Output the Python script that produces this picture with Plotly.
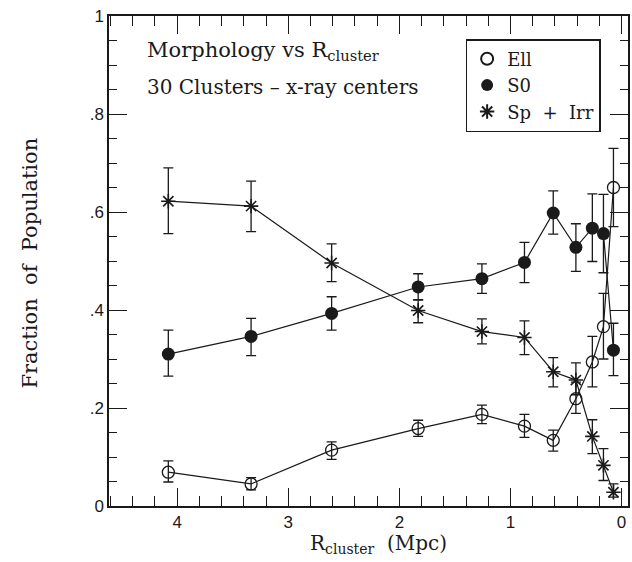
import plotly.graph_objects as go

# Data
r_cluster = [4.08, 3.335, 2.61, 1.831, 1.257, 0.874, 0.615, 0.411, 0.263, 0.163, 0.073]

ell = [0.069, 0.045, 0.114, 0.158, 0.187, 0.163, 0.134, 0.219, 0.294, 0.366, 0.650]
ell_up = [0.023, 0.013, 0.017, 0.017, 0.019, 0.024, 0.021, 0.034, 0.052, 0.068, 0.080]
ell_dn = [0.020, 0.012, 0.019, 0.016, 0.019, 0.023, 0.022, 0.030, 0.051, 0.066, 0.080]

s0 = [0.310, 0.346, 0.393, 0.447, 0.464, 0.497, 0.598, 0.528, 0.567, 0.556, 0.318]
s0_up = [0.049, 0.037, 0.034, 0.027, 0.030, 0.041, 0.045, 0.048, 0.070, 0.080, 0.055]
s0_dn = [0.045, 0.039, 0.034, 0.027, 0.030, 0.041, 0.043, 0.049, 0.068, 0.080, 0.052]

sp = [0.622, 0.612, 0.496, 0.399, 0.356, 0.344, 0.274, 0.257, 0.142, 0.083, 0.028]
sp_up = [0.068, 0.051, 0.039, 0.022, 0.026, 0.034, 0.029, 0.035, 0.034, 0.034, 0.017]
sp_dn = [0.066, 0.052, 0.038, 0.025, 0.025, 0.035, 0.031, 0.030, 0.035, 0.031, 0.010]

series_names = ["Ell", "S0", "Sp + Irr"]
legend_labels = ["Ell", "S0", "Sp  +  Irr"]
x_tickvals = [4, 3, 2, 1, 0]
x_ticktext = ["4", "3", "2", "1", "0"]
y_tickvals = [0, 0.2, 0.4, 0.6, 0.8, 1.0]
y_ticktext = ["0", ".2", ".4", ".6", ".8", "1"]

INK = "#1a1a1a"
SERIF = "DejaVu Serif"
SANS = "Liberation Sans"

fig = go.Figure()

styles = [
    dict(symbol="circle-open", size=12, color=INK, line=dict(width=1.3, color=INK)),
    dict(symbol="circle", size=13, color=INK, line=dict(width=0, color=INK)),
    dict(symbol="asterisk-open", size=12, color=INK, line=dict(width=1.6, color=INK)),
]

for name, lab, yv, up, dn, st in zip(series_names, legend_labels, [ell, s0, sp],
                                      [ell_up, s0_up, sp_up], [ell_dn, s0_dn, sp_dn], styles):
    fig.add_trace(go.Scatter(
        x=r_cluster, y=yv, mode="lines+markers", name=name, showlegend=False,
        line=dict(color=INK, width=1.2),
        marker=st,
        error_y=dict(type="data", symmetric=False, array=up, arrayminus=dn,
                     color=INK, thickness=1.3, width=5),
    ))
    fig.add_trace(go.Scatter(
        x=[None], y=[None], mode="markers", name=lab, showlegend=True, marker=st,
    ))

axis_common = dict(
    showline=True, linecolor=INK, linewidth=1.5, mirror="ticks",
    ticks="inside", tickcolor=INK, tickwidth=1.3, ticklen=18,
    showgrid=False, zeroline=False,
    tickfont=dict(family=SANS, size=17, color=INK),
)

fig.update_xaxes(
    **axis_common,
    range=[4.614, -0.058],
    tickvals=x_tickvals, ticktext=x_ticktext,
    minor=dict(dtick=0.2, tick0=0, ticks="inside", ticklen=10, tickcolor=INK, tickwidth=1.2),
)
fig.update_yaxes(
    **axis_common,
    range=[0, 1],
    tickvals=y_tickvals, ticktext=y_ticktext,
    minor=dict(dtick=0.05, tick0=0, ticks="inside", ticklen=8, tickcolor=INK, tickwidth=1.2),
)

fig.update_layout(
    width=632, height=562,
    margin=dict(l=109, r=2, t=16, b=56),
    plot_bgcolor="white", paper_bgcolor="white",
    showlegend=True,
    legend=dict(
        x=(467 - 109) / 521, y=(505.5 - 39) / 489.5, xanchor="left", yanchor="top",
        bordercolor=INK, borderwidth=1.5, bgcolor="white",
        font=dict(family=SERIF, size=18, color=INK),
        itemsizing="constant", tracegroupgap=0,
    ),
    annotations=[
        dict(text="Morphology vs R<sub>cluster</sub>", xref="paper", yref="paper",
             x=(145 - 109) / 521, y=(505.5 - 66) / 489.5, xanchor="left", yanchor="bottom",
             showarrow=False, font=dict(family=SERIF, size=21, color=INK)),
        dict(text="30 Clusters – x-ray centers", xref="paper", yref="paper",
             x=(145 - 109) / 521, y=(505.5 - 101) / 489.5, xanchor="left", yanchor="bottom",
             showarrow=False, font=dict(family=SERIF, size=20, color=INK)),
        dict(text="R<sub>cluster</sub>  (Mpc)", xref="paper", yref="paper",
             x=(380 - 109) / 521, y=(505.5 - 528) / 489.5, xanchor="center", yanchor="top",
             showarrow=False, font=dict(family=SERIF, size=20, color=INK)),
        dict(text="Fraction  of  Population", xref="paper", yref="paper",
             x=(30 - 109) / 521, y=(505.5 - 263) / 489.5, xanchor="center", yanchor="middle",
             textangle=-90, showarrow=False, font=dict(family=SERIF, size=21, color=INK)),
    ],
)

fig.write_html("out.html")
